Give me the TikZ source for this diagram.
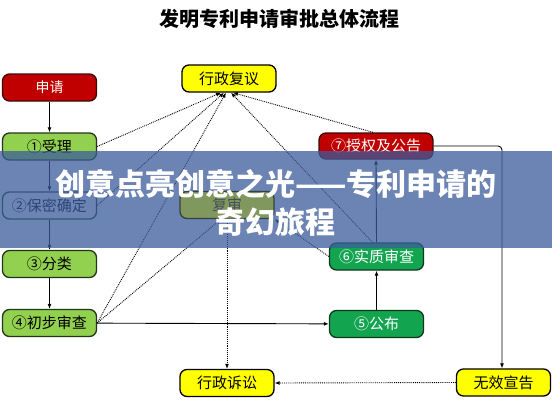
\documentclass[tikz,border=0pt]{standalone}
\usepackage{fontspec}
\setmainfont{Noto Sans CJK SC}
\usetikzlibrary{arrows.meta}
\definecolor{lgreen}{HTML}{92D050}
\definecolor{lgborder}{HTML}{24361A}
\definecolor{dgreen}{HTML}{13A44F}
\definecolor{dgborder}{HTML}{0F3A1E}
\definecolor{redfill}{HTML}{C00000}
\definecolor{rdborder}{HTML}{3D0A0A}
\definecolor{yfill}{HTML}{FFFF00}
\definecolor{bannerc}{RGB}{60,92,155}
\definecolor{fsfill}{RGB}{128,152,94}
\definecolor{fsborder}{RGB}{50,66,60}
\definecolor{fstext}{RGB}{70,80,90}
\begin{document}
\begin{tikzpicture}[x=1pt,y=-1pt,
  box/.style={draw, line width=1.3pt, rounded corners=7pt, minimum width=94pt,
    minimum height=27pt, inner sep=0pt, font=\fontsize{15}{15}\selectfont},
  lg/.style={box, fill=lgreen, draw=lgborder},
  dg/.style={box, fill=dgreen, draw=dgborder, text=white},
  rd/.style={box, fill=redfill, draw=rdborder, text=white},
  yl/.style={box, fill=yfill, draw=black},
  flow/.style={-{Latex[length=5pt,width=4pt]}, line width=0.9pt, black},
  dots/.style={-{Latex[length=5pt,width=4pt]}, densely dotted, line width=0.9pt, black}]
\useasboundingbox (0,0) rectangle (552,400);
\fill[white] (0,0) rectangle (552,400);

\node[font=\fontsize{20}{20}\selectfont\bfseries] (tt) at (279,18.5) {发明专利申请审批总体流程};

\node[rd, font=\fontsize{14}{14}\selectfont] (sq) at (49.5,87.5) {申请};
\node[yl] (fy) at (229,78.5) {行政复议};
\node[lg] (n1) at (49.5,146.5) {①受理};
\node[box, fill=white, draw=lgborder] (n2) at (49.5,205.5) {②保密确定};
\node[lg] (n3) at (49.5,264) {③分类};
\node[lg] (n4) at (49.5,323) {④初步审查};
\node[rd, minimum width=114pt, minimum height=26pt] (n7) at (376,146) {⑦授权及公告};
\node[dg] (n6) at (376.5,256.5) {⑥实质审查};
\node[dg] (n5) at (376.5,324) {⑤公布};
\node[yl] (xs) at (227,383) {行政诉讼};
\node[yl] (wx) at (503.5,382.5) {无效宣告};
\node[box, draw=none, fill=none] (fs) at (227,205) {};

% solid flow
\draw[flow] (sq) -- (n1);
\draw[flow] (n1) -- (n2);
\draw[flow] (n2) -- (n3);
\draw[flow] (n3) -- (n4);
\draw[flow] (n4) -- (n5);
\draw[flow] (n5.north) -- (n6.south);
\draw[flow] (n6.north) -- (n7.south);
\draw[flow, rounded corners=4pt] (n7.east) -| ([xshift=-1.5pt]wx.north);

% dotted connectors
\draw[dots] (n1.east) -- ([xshift=-8pt]fy.south);
\draw[dots] (n2.east) -- ([xshift=-5pt]fy.south);
\draw[dots] (n4.east) -- ([xshift=-3pt]fy.south);
\draw[dots] ([xshift=-4pt]n6.north) -- ([xshift=2pt]fy.south);
\draw[dots] ([xshift=-3pt]n7.north) -- ([xshift=4pt]fy.south);
\draw[dots] (n4.east) -- ([xshift=-6pt]fs.south);
\draw[dots] (n6.west) -- (fs.south east);
\draw[dots] (fs.south) -- (xs.north);
\draw[dots] (wx.west) -- (xs.east);

% banner
\fill[bannerc, fill opacity=0.75] (0,151) rectangle (552,248);
\node[box, fill=fsfill, draw=fsborder, text=fstext] (fsv) at (fs) {复审};
\node[text=white, font=\fontsize{30}{38}\selectfont\bfseries, align=center] (bt) at (276,203)
  {创意点亮创意之光——专利申请的\\奇幻旅程};
\end{tikzpicture}
\end{document}
